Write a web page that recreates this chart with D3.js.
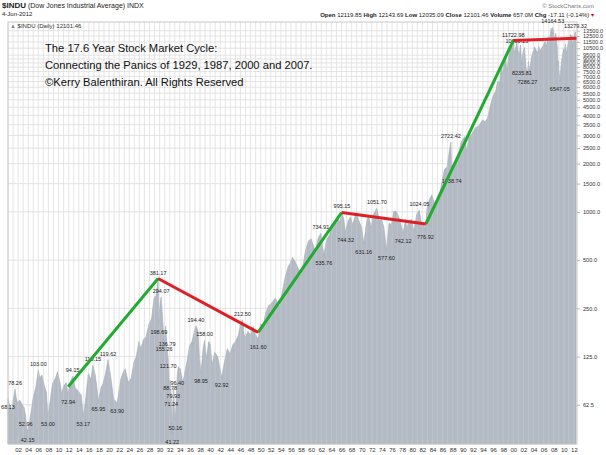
<!DOCTYPE html>
<html><head><meta charset="utf-8">
<script src="https://cdn.jsdelivr.net/npm/d3@7"></script>
<style>body{margin:0;background:#fff}text{font-family:"Liberation Sans",Arial,sans-serif}</style>
</head><body><div class="display"></div>
<script>
// DJIA approximate path [year, value]
const series = [
  [1900.0,68.13],[1900.4,60],[1900.8,58],[1901.0,66],[1901.4,78.26],[1901.6,70],[1901.9,64],[1902.3,67],[1902.8,63],
  [1903.2,60],[1903.5,52.96],[1903.7,46],[1903.9,42.15],[1904.3,50],[1904.7,60],[1905.0,70],[1905.5,80],
  [1906.0,103],[1906.3,92],[1906.7,96],[1907.2,82],[1907.6,75],[1907.9,53],[1908.4,68],[1908.8,85],
  [1909.4,92],[1909.8,100.5],[1910.3,86],[1910.6,73],[1911.0,82],[1911.5,86],[1911.9,72.94],[1912.4,88],
  [1912.8,94.15],[1913.3,80],[1913.9,76],[1914.5,72],[1914.9,53.17],[1915.3,65],[1915.9,98],[1916.4,90],
  [1916.8,110.15],[1917.3,95],[1917.9,65.95],[1918.4,80],[1918.8,85],[1919.3,98],[1919.8,119.62],[1920.3,95],
  [1920.9,68],[1921.6,63.9],[1922.3,90],[1922.8,100],[1923.2,105],[1923.8,86],[1924.4,92],[1924.9,115],
  [1925.4,125],[1925.9,155],[1926.3,140],[1926.8,160],[1927.3,165],[1927.9,200],[1928.4,215],[1928.9,290],
  [1929.3,300],[1929.7,381.17],[1929.85,198.69],[1930.0,250],[1930.3,294.07],[1930.6,215],[1930.9,155.26],
  [1931.2,194],[1931.5,136.79],[1931.7,121.7],[1931.9,86],[1932.1,88.78],[1932.3,70],[1932.5,41.22],
  [1932.7,79.93],[1932.9,60],[1933.1,50.16],[1933.5,96.4],[1933.7,108],[1934.1,105],[1934.6,86],[1935.0,100],
  [1935.5,120],[1935.9,145],[1936.4,155],[1936.9,180],[1937.2,194.4],[1937.6,180],[1937.9,120],[1938.2,98.95],
  [1938.6,140],[1938.9,158],[1939.3,121],[1939.7,155],[1940.0,150],[1940.4,111],[1940.9,133],[1941.5,125],
  [1941.9,106],[1942.3,92.92],[1942.8,115],[1943.4,140],[1943.9,130],[1944.5,148],[1945.0,155],[1945.6,170],
  [1946.0,200],[1946.4,212.5],[1946.7,175],[1946.9,163],[1947.5,180],[1948.0,170],[1948.5,192],[1948.9,173],
  [1949.5,161.6],[1950.0,200],[1950.5,197],[1951.0,235],[1951.6,260],[1952.0,265],[1952.9,290],[1953.7,255],
  [1954.3,320],[1954.9,400],[1955.5,460],[1955.9,480],[1956.3,521],[1956.8,490],[1957.8,420],[1958.4,470],
  [1958.9,580],[1959.5,660],[1960.0,680],[1960.8,566],[1961.4,690],[1961.9,734.91],[1962.5,535.76],
  [1963.0,660],[1963.6,720],[1964.2,820],[1964.9,870],[1965.4,920],[1965.6,850],[1966.1,995.15],[1966.5,880],
  [1966.8,744.32],[1967.3,880],[1967.8,930],[1968.2,830],[1968.9,985],[1969.5,870],[1970.0,800],[1970.4,631.16],
  [1970.9,840],[1971.3,950],[1971.9,800],[1972.3,960],[1973.0,1051.7],[1973.5,880],[1973.9,900],[1974.4,800],
  [1974.9,577.6],[1975.4,850],[1975.9,830],[1976.3,1000],[1976.8,1014],[1977.4,920],[1977.9,800],[1978.2,742.12],
  [1978.7,900],[1978.9,800],[1979.4,860],[1979.8,900],[1980.3,759],[1980.9,970],[1981.4,1024.05],[1981.8,850],
  [1982.3,830],[1982.6,776.92],[1982.9,1050],[1983.4,1200],[1983.9,1280],[1984.5,1086],[1984.9,1210],
  [1985.5,1330],[1985.9,1550],[1986.4,1850],[1986.9,1900],[1987.3,2350],[1987.65,2722.42],[1987.8,1738.74],
  [1988.2,2000],[1988.8,2150],[1989.3,2400],[1989.7,2750],[1990.4,2950],[1990.8,2365],[1991.2,2900],
  [1991.9,3100],[1992.5,3350],[1993.2,3450],[1993.9,3750],[1994.4,3650],[1994.9,3850],[1995.5,4650],
  [1995.9,5200],[1996.5,5650],[1996.9,6500],[1997.3,6400],[1997.6,8200],[1997.8,7200],[1998.3,9000],
  [1998.5,9300],[1998.7,7539],[1999.2,9800],[1999.5,11000],[1999.8,10300],[2000.0,11722.98],[2000.2,9796],
  [2000.5,10700],[2000.7,11310],[2000.9,10200],[2001.2,9500],[2001.4,11000],[2001.7,8235.81],[2001.9,9900],
  [2002.2,10600],[2002.5,8000],[2002.8,7286.27],[2003.0,8700],[2003.2,7500],[2003.6,9200],[2003.9,10000],
  [2004.2,10700],[2004.8,9800],[2005.0,10800],[2005.3,10100],[2005.9,10900],[2006.3,11600],[2006.5,10700],
  [2006.9,12400],[2007.2,12100],[2007.5,14000],[2007.6,12900],[2007.8,14164.53],[2008.2,11800],[2008.4,13000],
  [2008.7,10600],[2008.8,8200],[2008.9,8800],[2009.0,7800],[2009.2,6547.05],[2009.5,8500],[2009.9,10400],
  [2010.1,9900],[2010.3,11200],[2010.5,9700],[2010.9,11500],[2011.3,12800],[2011.5,11900],[2011.6,12700],
  [2011.7,10600],[2011.9,12000],[2012.2,13200],[2012.3,13279.32],[2012.42,12101.46]
];

// annotated highs (1) and lows (-1)
const labels = [
  [1900.0,68.13,-1],[1901.4,78.26,1],[1903.5,52.96,-1],[1903.9,42.15,-1],[1906.0,103.0,1],[1907.9,53.0,-1],
  [1911.9,72.94,-1],[1912.8,94.15,1],[1914.9,53.17,-1],[1916.8,110.15,1],[1917.9,65.95,-1],[1919.8,119.62,1],
  [1921.6,63.9,-1],[1929.7,381.17,1],[1930.3,294.07,1],[1929.85,198.69,-1],[1930.9,155.26,-1],[1931.5,136.79,1],
  [1931.7,121.7,-1],[1932.1,88.78,-1],[1932.7,79.93,-1],[1933.5,96.4,-1],[1932.3,71.24,-1],[1933.1,50.16,-1],
  [1932.5,41.22,-1],[1937.2,194.4,1],[1938.9,158.0,1],[1938.2,98.95,-1],[1942.3,92.92,-1],[1946.4,212.5,1],
  [1949.5,161.6,-1],[1961.9,734.91,1],[1962.5,535.76,-1],[1966.1,995.15,1],[1966.8,744.32,-1],[1970.4,631.16,-1],
  [1973.0,1051.7,1],[1974.9,577.6,-1],[1978.2,742.12,-1],[1981.4,1024.05,1],[1982.6,776.92,-1],
  [1987.65,2722.42,1],[1987.8,1738.74,-1],[2000.0,11722.98,1],[2000.7,10635.25,1],[2001.7,8235.81,-1],
  [2002.8,7286.27,-1],[2007.8,14164.53,1],[2009.2,6547.05,-1],[2012.3,13279.32,1]
];

// cycle lines
const greenLines = [[[1911.9,81],[1929.7,384]],[[1949.5,177],[1966.0,990]],[[1982.7,840],[2000.0,11723]]];
const redLines = [[[1929.7,384],[1949.5,177]],[[1966.0,990],[1982.7,840]],[[2000.0,11723],[2012.5,12100]]];

const yTicks = [62.5,125,250,500,1000,1500,2000,2500,3000,3500,4000,4500,5000,5500,6000,6500,7000,7500,8000,8500,9000,9500,10500,11500,12500,13500];
const xTickYears = d3.range(1902, 2013, 2);

const W = 606, H = 455, L = 8, R = 577, T = 22, B = 444;
const svg = d3.select('.display').append('svg').attr('width', W).attr('height', H);

const x = d3.scaleLinear().domain([1900, 2012.6]).range([L, R]);
const y = d3.scaleLog().base(2).domain([35.6, 15300]).range([B, T]);

// grid
svg.append('g').selectAll('line').data(d3.range(1900, 2013)).enter().append('line')
  .attr('x1', d => x(d)).attr('x2', d => x(d)).attr('y1', T).attr('y2', B)
  .attr('stroke', '#dcdcdc').attr('stroke-width', 0.8);
svg.append('g').selectAll('line').data(yTicks).enter().append('line')
  .attr('x1', L).attr('x2', R).attr('y1', d => y(d)).attr('y2', d => y(d))
  .attr('stroke', '#dcdcdc').attr('stroke-width', 0.8);

// area
svg.append('path').datum(series)
  .attr('fill', '#b3bac3').attr('stroke', '#a4acb6').attr('stroke-width', 0.6)
  .attr('d', d3.area().x(d => x(d[0])).y0(B).y1(d => y(d[1])));

// lighter grid over area
svg.append('g').selectAll('line').data(d3.range(1900, 2013)).enter().append('line')
  .attr('x1', d => x(d)).attr('x2', d => x(d)).attr('y1', T).attr('y2', B)
  .attr('stroke', '#ffffff').attr('stroke-opacity', 0.18).attr('stroke-width', 0.8);

svg.append('rect').attr('x', L).attr('y', T).attr('width', R - L).attr('height', B - T)
  .attr('fill', 'none').attr('stroke', '#c8c8c8');

// axes
const yAxis = svg.append('g').attr('transform', `translate(${R},0)`)
  .call(d3.axisRight(y).tickValues(yTicks).tickSize(3).tickFormat(d3.format('.1f')));
yAxis.select('.domain').remove();
yAxis.selectAll('line').attr('stroke', '#bbb');
yAxis.selectAll('text').attr('font-size', 5.6).attr('fill', '#333');

const xAxis = svg.append('g').attr('transform', `translate(0,${B})`)
  .call(d3.axisBottom(x).tickValues(xTickYears).tickSize(0).tickPadding(4)
    .tickFormat(d => String(d % 100).padStart(2, '0')));
xAxis.select('.domain').remove();
xAxis.selectAll('text').attr('font-size', 6).attr('fill', '#333');

// annotations
const ann = svg.append('g');
labels.forEach(([yr, v, dir]) => {
  ann.append('text').attr('x', x(yr)).attr('y', y(v) + (dir > 0 ? -4 : 10))
    .attr('text-anchor', 'middle').attr('font-size', 5.5).attr('fill', '#222')
    .attr('font-family', 'Liberation Serif, serif')
    .text(v.toFixed(2));
});

// cycle lines
const line = d3.line().x(d => x(d[0])).y(d => y(d[1]));
svg.selectAll('.g').data(greenLines).enter().append('path')
  .attr('d', line).attr('stroke', '#22aa33').attr('stroke-width', 3).attr('fill', 'none');
svg.selectAll('.r').data(redLines).enter().append('path')
  .attr('d', line).attr('stroke', '#dd1f26').attr('stroke-width', 3).attr('fill', 'none');

// header
svg.append('text').attr('x', 2).attr('y', 8).attr('font-size', 7).attr('fill', '#222')
  .html('<tspan font-weight="bold" font-size="8">$INDU</tspan> (Dow Jones Industrial Average) INDX');
svg.append('text').attr('x', 2).attr('y', 16).attr('font-size', 6).attr('fill', '#222').text('4-Jun-2012');
svg.append('text').attr('x', 594).attr('y', 8).attr('text-anchor', 'end').attr('font-size', 6).attr('fill', '#777').text('© StockCharts.com');
svg.append('text').attr('x', 594).attr('y', 17).attr('text-anchor', 'end').attr('font-size', 6).attr('fill', '#222')
  .html('<tspan font-weight="bold">Open</tspan> 12119.85 <tspan font-weight="bold">High</tspan> 12143.69 <tspan font-weight="bold">Low</tspan> 12035.09 <tspan font-weight="bold">Close</tspan> 12101.46 <tspan font-weight="bold">Volume</tspan> 657.0M <tspan font-weight="bold">Chg</tspan> -17.11 (-0.14%) <tspan fill="#d00">▾</tspan>');
svg.append('text').attr('x', 10).attr('y', 28).attr('font-size', 6).attr('fill', '#333')
  .html('<tspan fill="#888">▲</tspan> $INDU (Daily) 12101.46');

// title block
['The 17.6 Year Stock Market Cycle:', 'Connecting the Panics of 1929, 1987, 2000 and 2007.', '©Kerry Balenthiran. All Rights Reserved']
  .forEach((t, i) => svg.append('text').attr('x', 45).attr('y', 52 + i * 17)
    .attr('font-family', 'Open Sans, sans-serif').attr('font-size', 11.2).attr('fill', '#111').text(t));
</script></body></html>
